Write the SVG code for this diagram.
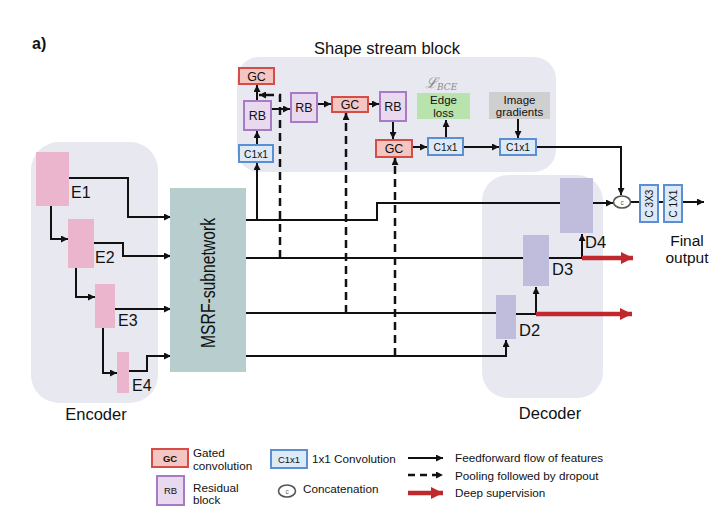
<svg xmlns="http://www.w3.org/2000/svg" width="715" height="515" viewBox="0 0 715 515">
<style>
text{font-family:"Liberation Sans",Arial,sans-serif;fill:#111}
.bg{fill:#e8e8f0}
.gc{fill:#f5c6c1;stroke:#d44d47;stroke-width:2}
.rb{fill:#e8d9ef;stroke:#a879c4;stroke-width:2}
.c1{fill:#dce9f7;stroke:#5b8fd1;stroke-width:2}
.enc{fill:#ebb5cd}
.dec{fill:#c0bcdc}
.ln{fill:none;stroke:#111;stroke-width:2}
.ar{fill:none;stroke:#111;stroke-width:2;marker-end:url(#ah)}
.da{fill:none;stroke:#111;stroke-width:2.5;stroke-dasharray:8 5;marker-end:url(#ah)}
.red{fill:none;stroke:#c0282d;stroke-width:4.5;marker-end:url(#ahr)}
.lab{font-size:16.5px}
.bx{font-size:12.5px;text-anchor:middle}
.b2{font-size:11.5px;text-anchor:middle}
.sm{font-size:10.3px;text-anchor:middle}
.lg{font-size:11.7px}
</style>
<defs>
<marker id="ah" viewBox="0 0 10 10" refX="10" refY="5" markerWidth="7" markerHeight="7" markerUnits="userSpaceOnUse" orient="auto"><path d="M0,0 L10,5 L0,10 z" fill="#111"/></marker>
<marker id="ahr" viewBox="0 0 10 10" refX="10" refY="5" markerWidth="13" markerHeight="12" markerUnits="userSpaceOnUse" orient="auto"><path d="M0,0 L10,5 L0,10 z" fill="#c0282d"/></marker>
</defs>
<rect width="715" height="515" fill="#fff"/>
<text x="32" y="49" style="font-size:16px;font-weight:bold">a)</text>

<g id="backgrounds">
<rect class="bg" x="237" y="57" width="319" height="115" rx="22"/>
<rect class="bg" x="31" y="142" width="127" height="261" rx="28"/>
<rect class="bg" x="482" y="175" width="121" height="223" rx="26"/>
</g>
<text x="387" y="54" class="lab" style="text-anchor:middle">Shape stream block</text>
<text x="96" y="420" class="lab" style="text-anchor:middle">Encoder</text>
<text x="550" y="419" class="lab" style="text-anchor:middle">Decoder</text>

<g id="connectors">
<path class="ar" d="M69,178 H128 V217 H171"/>
<path class="ar" d="M94,243 H123 V256 H171"/>
<path class="ar" d="M115,309 H171"/>
<path class="ar" d="M129,371 H147 V356 H171"/>
<path class="ar" d="M51,206 V239 H68"/>
<path class="ar" d="M76,268 V297 H95"/>
<path class="ar" d="M103,328 V373 H117"/>
<path class="ln" d="M246,220 H377 V203 H560"/>
<path class="ar" d="M257,220 V163"/>
<path class="ln" d="M246,258 H523"/>
<path class="ln" d="M246,313 H496"/>
<path class="ar" d="M246,356 H506 V340"/>
<path class="ar" d="M257,145 V131"/>
<path class="ar" d="M257,101 V85"/>
<path class="ar" d="M271,109 H290"/>
<path class="ar" d="M317,104 H331"/>
<path class="ar" d="M368,104 H379"/>
<path class="ar" d="M393,121 V139"/>
<path class="ar" d="M412,147 H427"/>
<path class="ar" d="M446,138 V120"/>
<path class="ar" d="M463,147 H499"/>
<path class="ar" d="M518,119 V138"/>
<path class="ar" d="M536,147 H621 V195"/>
<path class="da" d="M280,258 V95 H259"/>
<path class="da" d="M346,313 V113"/>
<path class="da" d="M395,356 V158"/>
<path class="ar" d="M593,203 H613"/>
<path class="ar" d="M549,258 H582 V234"/>
<path class="red" d="M582,258 H633"/>
<path class="ar" d="M516,314 H536 V287"/>
<path class="red" d="M536,314 H632"/>
<path class="ln" d="M630,202 H640 M658,202 H664"/>
<path class="ar" d="M682,202 H704"/>
</g>

<g id="E1"><rect class="enc" x="36" y="152" width="33" height="54"/><text x="71" y="198" style="font-size:16px">E1</text></g>
<g id="E2"><rect class="enc" x="68" y="219" width="26" height="49"/><text x="95" y="263" style="font-size:16px">E2</text></g>
<g id="E3"><rect class="enc" x="95" y="284" width="20" height="44"/><text x="118" y="326" style="font-size:16px">E3</text></g>
<g id="E4"><rect class="enc" x="117" y="352" width="12" height="41"/><text x="132" y="391" style="font-size:16px">E4</text></g>

<g id="MSRF"><rect x="170" y="188" width="76" height="184" fill="#b8cece"/>
<text transform="translate(215,283) rotate(-90)" style="font-size:20px;text-anchor:middle" textLength="130" lengthAdjust="spacingAndGlyphs">MSRF-subnetwork</text></g>

<g id="GC1"><rect class="gc" x="239" y="68" width="35" height="16"/><text x="256.5" y="81" class="bx">GC</text></g>
<g id="RB1"><rect class="rb" x="244" y="101" width="27" height="29"/><text x="257.5" y="120" class="bx">RB</text></g>
<g id="C1x1a"><rect class="c1" x="239" y="145" width="34" height="17"/><text x="256" y="157.5" class="sm">C1x1</text></g>
<g id="RB2"><rect class="rb" x="291" y="93" width="26" height="29"/><text x="304" y="112" class="bx">RB</text></g>
<g id="GC2"><rect class="gc" x="332" y="97" width="36" height="15"/><text x="350" y="109" class="bx">GC</text></g>
<g id="RB3"><rect class="rb" x="380" y="92" width="26" height="29"/><text x="393" y="111" class="bx">RB</text></g>
<g id="GC3"><rect class="gc" x="376" y="140" width="36" height="17"/><text x="394" y="153" class="bx">GC</text></g>
<g id="C1x1b"><rect class="c1" x="428" y="138" width="35" height="17"/><text x="445.5" y="150.5" class="sm">C1x1</text></g>
<g id="EdgeLoss"><rect x="417" y="93" width="53" height="26" fill="#b8e3ad"/><text x="443.5" y="104" class="b2">Edge</text><text x="443.5" y="117" class="b2">loss</text></g>
<g id="LBCE"><text x="425" y="88" style="font-family:'DejaVu Serif',serif;font-style:italic;font-size:15px;fill:#8a8a8a">ℒ<tspan dy="2" style="font-size:9px">BCE</tspan></text></g>
<g id="ImageGradients"><rect x="489" y="92" width="61" height="27" fill="#cfcfcf"/><text x="519.5" y="103.5" class="b2">Image</text><text x="519.5" y="116" class="b2">gradients</text></g>
<g id="C1x1c"><rect class="c1" x="500" y="139" width="36" height="16"/><text x="518" y="151" class="sm">C1x1</text></g>

<g id="D4"><rect class="dec" x="560" y="178" width="33" height="55"/><text x="585" y="248" class="lab">D4</text></g>
<g id="D3"><rect class="dec" x="523" y="235" width="26" height="51"/><text x="552" y="275" class="lab">D3</text></g>
<g id="D2"><rect class="dec" x="496" y="295" width="20" height="44"/><text x="519" y="336" class="lab">D2</text></g>

<g id="Concat"><ellipse cx="622" cy="202" rx="8.5" ry="6" fill="#fff" stroke="#555" stroke-width="1.6"/><text x="622" y="204.5" style="font-size:6.5px;text-anchor:middle;fill:#555">c</text></g>
<g id="C3x3"><rect class="c1" x="640" y="185" width="18" height="37" stroke-width="1.5"/><text transform="translate(652.5,203.5) rotate(-90)" style="font-size:10px;text-anchor:middle">C 3X3</text></g>
<g id="C1X1"><rect class="c1" x="664" y="185" width="18" height="37" stroke-width="1.5"/><text transform="translate(676.5,203.5) rotate(-90)" style="font-size:10px;text-anchor:middle">C 1X1</text></g>
<g id="FinalOutput"><text x="687" y="246" style="font-size:15.5px;text-anchor:middle">Final</text><text x="687" y="263" style="font-size:15.5px;text-anchor:middle">output</text></g>

<g id="legend">
<rect class="gc" x="152" y="449" width="36" height="18"/><text x="170" y="461.5" style="font-size:9.5px;font-weight:bold;text-anchor:middle">GC</text>
<text x="193" y="457" class="lg">Gated</text><text x="193" y="470" class="lg">convolution</text>
<rect class="rb" x="157" y="476" width="27" height="29"/><text x="170.5" y="494" style="font-size:9.5px;text-anchor:middle">RB</text>
<text x="193" y="492" class="lg">Residual</text><text x="193" y="504" class="lg">block</text>
<rect class="c1" x="271" y="450" width="36" height="18"/><text x="289" y="462.5" style="font-size:9.5px;text-anchor:middle">C1x1</text>
<text x="312" y="463" class="lg">1x1 Convolution</text>
<ellipse cx="287" cy="491" rx="8.5" ry="6" fill="#fff" stroke="#555" stroke-width="1.6"/><text x="287" y="493.5" style="font-size:6.5px;text-anchor:middle;fill:#555">c</text>
<text x="303" y="493" class="lg">Concatenation</text>
<path class="ar" d="M408,458 H443"/>
<path class="da" d="M408,475 H443" style="stroke-dasharray:7 5"/>
<path class="red" d="M408,493 H443"/>
<text x="455" y="462" class="lg">Feedforward flow of features</text>
<text x="455" y="480" class="lg">Pooling followed by dropout</text>
<text x="455" y="497" class="lg">Deep supervision</text>
</g>
</svg>
